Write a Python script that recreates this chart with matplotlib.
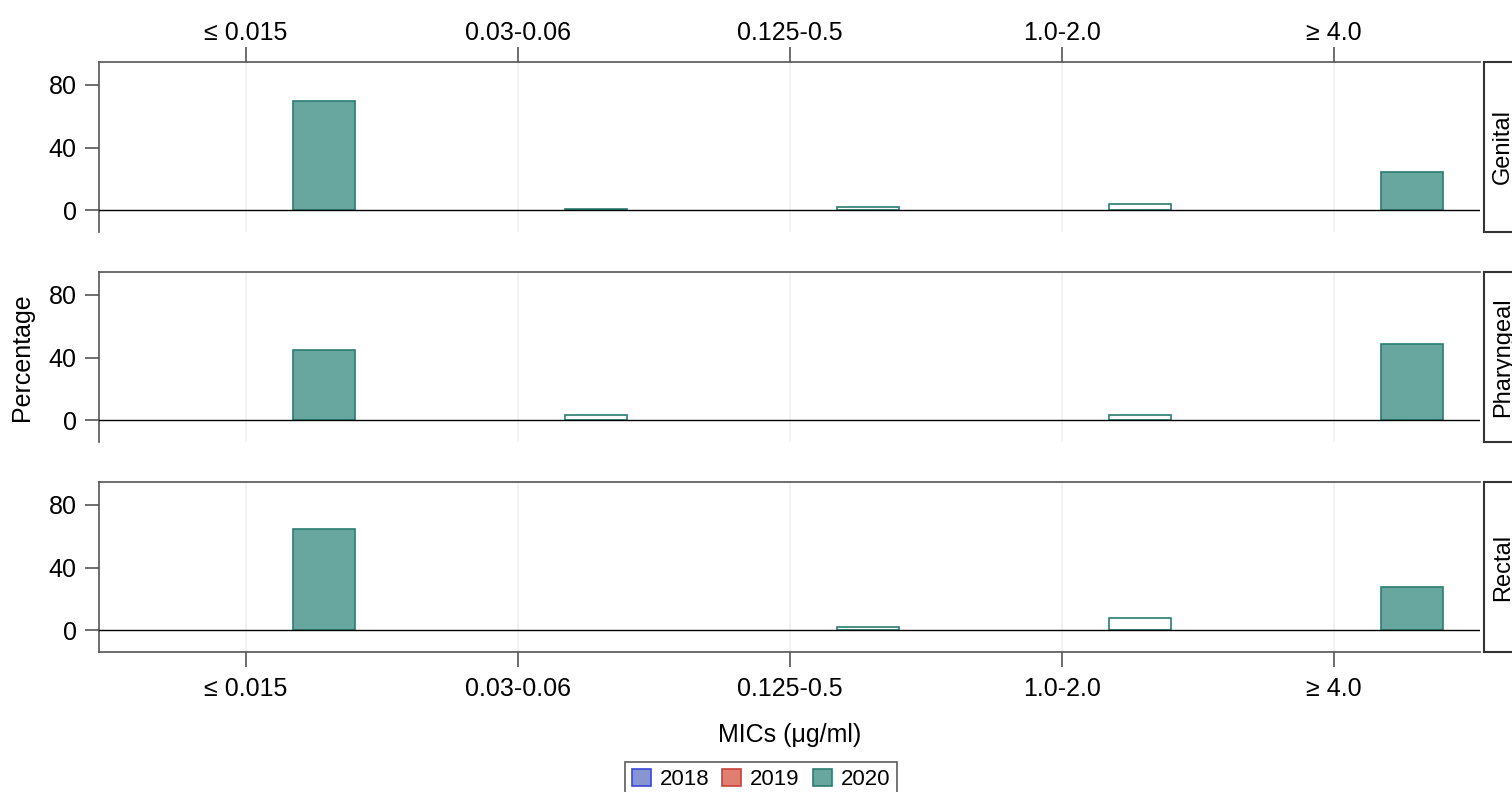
import matplotlib.pyplot as plt
from matplotlib.patches import Patch

plt.rcParams['font.family'] = ['Liberation Sans', 'DejaVu Sans']

# data (percentage of isolates, 2020 only)
mic_labels = ['\u2264 0.015', '0.03-0.06', '0.125-0.5', '1.0-2.0', '\u2265 4.0']
sites = ['Genital', 'Pharyngeal', 'Rectal']
pct_2020 = {
    'Genital': [69.8, 1.0, 2.0, 4.0, 24.3],
    'Pharyngeal': [44.8, 3.4, 0.0, 3.4, 48.6],
    'Rectal': [64.6, 0.0, 2.0, 7.7, 27.5],
}
years = ['2018', '2019', '2020']
year_fill = ['#8796d2', '#e07f70', '#67a7a0']
year_edge = ['#3b47d8', '#c8403a', '#2b7c72']

W, H = 1512, 792
fig = plt.figure(figsize=(W / 100, H / 100), dpi=100)

left, right = 99 / W, 1480 / W
panel_px = [(62, 232), (272, 442), (482, 652)]
spine_col = '#555555'
x = list(range(len(mic_labels)))

for i, site in enumerate(sites):
    top, bot = panel_px[i]
    ax = fig.add_axes([left, 1 - bot / H, right - left, (bot - top) / H])
    vals = pct_2020[site]
    for xi, v in zip(x, vals):
        if v <= 0:
            continue
        face = year_fill[2] if v >= 9 else 'white'
        ax.bar(xi + 0.287, v, width=0.228, color=face, edgecolor=year_edge[2],
               linewidth=1.2, zorder=3)
    ax.axhline(0, color='black', lw=1, zorder=4)
    for xi in x:
        ax.axvline(xi, color='#f0f0f0', lw=1.2, zorder=1)
    ax.set_xlim(-0.54, 4.537)
    ax.set_ylim(-14, 94.7)
    ax.set_yticks([0, 40, 80])
    ax.set_xticks(x)
    ax.set_xticklabels(mic_labels)
    ax.tick_params(axis='y', labelsize=18, length=10, width=1.2, color=spine_col, pad=6)
    for s in ['right', 'bottom']:
        ax.spines[s].set_visible(False)
    for s in ['top', 'left', 'bottom']:
        ax.spines[s].set_color(spine_col)
        ax.spines[s].set_linewidth(1.2)
    if i == 0:
        ax.tick_params(axis='x', top=True, labeltop=True, bottom=False, labelbottom=False,
                       labelsize=18, length=11, width=1.2, color=spine_col, pad=1)
    elif i == 1:
        ax.tick_params(axis='x', bottom=False, labelbottom=False)
    else:
        ax.spines['bottom'].set_visible(True)
        ax.tick_params(axis='x', labelsize=18, length=11, width=1.2, color=spine_col, pad=7)

    # strip on the right
    sax = fig.add_axes([1484 / W, 1 - bot / H, 40 / W, (bot - top) / H])
    sax.set_xticks([])
    sax.set_yticks([])
    for s in sax.spines.values():
        s.set_color('#333333')
        s.set_linewidth(1.5)
    fig.text(1503 / W, 1 - (top + bot) / 2 / H, site, rotation=90, fontsize=17,
             ha='center', va='center')

fig.text(790 / W, 1 - 735 / H, 'MICs (\u03bcg/ml)', fontsize=18, ha='center', va='center')
fig.text(22 / W, 1 - 357 / H, 'Percentage', fontsize=18, rotation=90,
         ha='center', va='center')

handles = [Patch(facecolor=f, edgecolor=e, linewidth=1.2) for f, e in zip(year_fill, year_edge)]
leg = fig.legend(handles, years, loc='upper center', bbox_to_anchor=(761 / W, 1 - 762 / H),
                 ncol=3, fontsize=16, frameon=True, fancybox=False, handlelength=0.85,
                 handleheight=0.85, handletextpad=0.4, columnspacing=0.6,
                 borderpad=0.3, borderaxespad=0)
leg.get_frame().set_edgecolor('#333333')
leg.get_frame().set_linewidth(1.2)

fig.savefig('out.png', dpi=100)
